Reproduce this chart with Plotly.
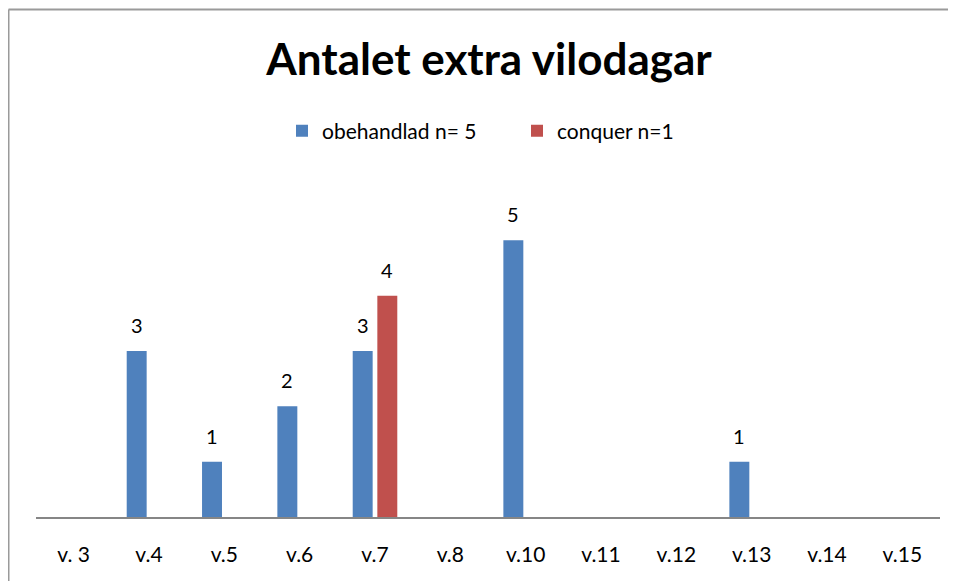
import plotly.graph_objects as go

categories = ["v. 3", "v.4", "v.5", "v.6", "v.7", "v.8", "v.10", "v.11", "v.12", "v.13", "v.14", "v.15"]
obehandlad = [None, 3, 1, 2, 3, None, 5, None, None, 1, None, None]
conquer = [None, None, None, None, 4, None, None, None, None, None, None, None]

series_names = ["obehandlad n= 5", "conquer n=1"]
colors = ["#4F81BD", "#C0504D"]
title_text = "Antalet extra vilodagar"

FONT = "Lato, Carlito, Calibri, sans-serif"

# page body has an 8px margin, so figure coords = screen coords - 8
W, H = 948, 573
L, R, T, B = 28, 16, 177, 64
PW, PH = W - L - R, H - T - B

fig = go.Figure()
for name, vals, col in zip(series_names, [obehandlad, conquer], colors):
    fig.add_trace(go.Bar(x=categories, y=vals, name=name, marker=dict(color=col, line=dict(width=0))))

# data labels
for vals, shift in [(obehandlad, -12.3), (conquer, 12.3)]:
    for c, v in zip(categories, vals):
        if v is None:
            continue
        fig.add_annotation(x=c, y=v, xref="x", yref="y", text=str(v), showarrow=False,
                           xshift=shift, yshift=12, yanchor="bottom",
                           font=dict(family=FONT, size=20, color="black"))

# chart area border (left and top edges visible)
bx = (0.5 - L) / PW
by = (PH + T - 1.5) / PH
fig.add_shape(type="line", xref="paper", yref="paper", x0=bx, x1=bx, y0=-B / PH, y1=by,
              line=dict(color="#9a9a9a", width=2), layer="below")
fig.add_shape(type="line", xref="paper", yref="paper", x0=bx, x1=(W - L) / PW, y0=by, y1=by,
              line=dict(color="#9a9a9a", width=2), layer="below")

fig.update_layout(
    width=W, height=H, autosize=False,
    margin=dict(l=L, r=R, t=T, b=B),
    paper_bgcolor="white", plot_bgcolor="white",
    font=dict(family=FONT, size=20, color="black"),
    title=dict(text="<b>" + title_text + "</b>", x=481 / W, xanchor="center",
               y=1 - 52 / H, yanchor="middle", yref="container",
               font=dict(family=FONT, size=44, color="black")),
    barmode="group", bargap=0.346, bargroupgap=0.19,
    showlegend=True,
    legend=dict(orientation="h", x=(274 - L) / PW, xanchor="left", y=(PH + T - 123) / PH, yanchor="middle",
                font=dict(family=FONT, size=21, color="black"), itemwidth=30, traceorder="normal",
                entrywidth=190, entrywidthmode="pixels"),
    xaxis=dict(type="category", showline=True, linecolor="#868686", linewidth=2,
               ticks="", showgrid=False, zeroline=False, ticklabelstandoff=18,
               tickfont=dict(family=FONT, size=21, color="black")),
    yaxis=dict(range=[0, 6], visible=False, showgrid=False, zeroline=False),
)

fig.write_html("out.html")
